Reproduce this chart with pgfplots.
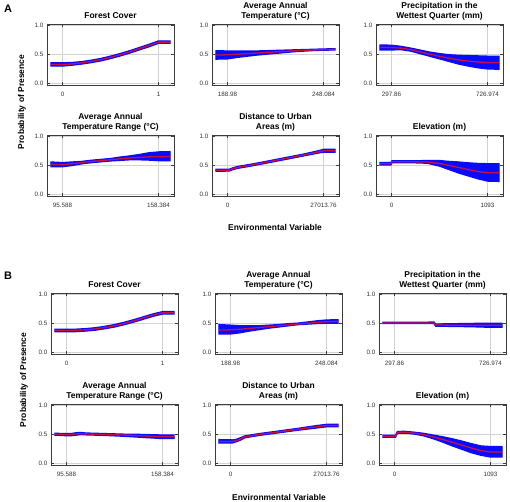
\documentclass[border=0pt]{standalone}
\usepackage{fontspec}
\setmainfont{Liberation Sans}
\usepackage{pgfplots}
\usepackage{pgfplotstable}
\pgfplotsset{compat=1.18}
\definecolor{bandblue}{RGB}{10,10,255}
\definecolor{meanred}{RGB}{200,15,70}
\definecolor{gridgray}{RGB}{210,210,210}
\definecolor{framegray}{RGB}{60,60,60}

% ---------- Panel A data ----------
\pgfplotstableread{
x m lo hi
-0.12 0.325 0.30 0.355
0.0 0.325 0.30 0.355
0.1 0.335 0.315 0.36
0.2 0.355 0.335 0.375
0.3 0.38 0.36 0.40
0.4 0.41 0.39 0.43
0.5 0.45 0.43 0.47
0.6 0.495 0.475 0.515
0.7 0.545 0.525 0.565
0.8 0.60 0.58 0.62
0.9 0.655 0.635 0.675
1.0 0.715 0.695 0.735
1.12 0.715 0.695 0.735
}\tAa
\pgfplotstableread{
x m lo hi
181.89 0.49 0.42 0.565
188.98 0.495 0.425 0.56
194.89 0.505 0.45 0.56
200.80 0.515 0.47 0.56
206.71 0.525 0.49 0.56
212.62 0.535 0.505 0.565
218.53 0.545 0.52 0.57
224.44 0.555 0.535 0.575
230.35 0.565 0.55 0.58
236.26 0.572 0.56 0.585
242.17 0.58 0.57 0.59
248.08 0.585 0.575 0.595
255.17 0.59 0.58 0.60
}\tAb
\pgfplotstableread{
x m lo hi
246.37 0.62 0.58 0.665
297.86 0.62 0.58 0.66
340.77 0.61 0.585 0.64
383.68 0.585 0.56 0.61
426.59 0.545 0.515 0.575
469.51 0.505 0.47 0.54
512.42 0.47 0.425 0.515
555.33 0.435 0.38 0.495
598.24 0.405 0.335 0.485
641.15 0.385 0.30 0.48
684.06 0.37 0.27 0.475
726.97 0.36 0.25 0.47
778.47 0.36 0.245 0.47
}\tAc
\pgfplotstableread{
x m lo hi
88.05 0.52 0.48 0.56
95.59 0.515 0.48 0.55
101.87 0.53 0.50 0.56
108.15 0.55 0.53 0.57
114.43 0.57 0.55 0.59
120.71 0.585 0.565 0.605
126.99 0.60 0.58 0.62
133.27 0.615 0.59 0.645
139.55 0.63 0.60 0.665
145.83 0.64 0.60 0.69
152.10 0.65 0.595 0.72
158.38 0.655 0.585 0.735
165.92 0.655 0.585 0.74
}\tAd
\pgfplotstableread{
x m lo hi
-3242 0.415 0.40 0.435
540 0.42 0.405 0.435
1351 0.44 0.425 0.455
2701 0.465 0.45 0.48
6483 0.505 0.49 0.52
10805 0.555 0.54 0.57
16208 0.62 0.605 0.635
21611 0.685 0.67 0.70
26203 0.745 0.725 0.765
27014 0.755 0.73 0.78
30255 0.755 0.73 0.78
}\tAe
\pgfplotstableread{
x m lo hi
-131 0.53 0.51 0.55
-8 0.53 0.51 0.55
5 0.565 0.55 0.58
219 0.565 0.55 0.58
410 0.56 0.54 0.585
547 0.535 0.49 0.585
656 0.50 0.43 0.57
765 0.465 0.37 0.56
874 0.43 0.32 0.545
984 0.395 0.27 0.535
1093 0.375 0.23 0.53
1224 0.375 0.225 0.53
}\tAf

% ---------- Panel B data ----------
\pgfplotstableread{
x m lo hi
-0.12 0.38 0.36 0.40
0.0 0.38 0.36 0.40
0.1 0.38 0.36 0.40
0.2 0.39 0.37 0.41
0.3 0.405 0.385 0.425
0.4 0.43 0.41 0.45
0.5 0.46 0.44 0.48
0.6 0.50 0.48 0.52
0.7 0.545 0.525 0.565
0.8 0.595 0.575 0.615
0.9 0.645 0.625 0.665
1.0 0.685 0.665 0.705
1.12 0.685 0.665 0.705
}\tBa
\pgfplotstableread{
x m lo hi
181.89 0.385 0.32 0.48
188.98 0.39 0.32 0.47
194.89 0.40 0.34 0.46
200.80 0.415 0.37 0.46
206.71 0.43 0.395 0.46
212.62 0.445 0.42 0.47
218.53 0.46 0.44 0.48
224.44 0.475 0.46 0.495
230.35 0.49 0.48 0.505
236.26 0.505 0.49 0.525
242.17 0.52 0.50 0.545
248.08 0.53 0.505 0.56
255.17 0.535 0.505 0.565
}\tBb
\pgfplotstableread{
x m lo hi
246.37 0.51 0.50 0.52
426.59 0.51 0.50 0.52
473.80 0.51 0.50 0.525
482.38 0.475 0.455 0.49
555.33 0.47 0.45 0.495
641.15 0.47 0.445 0.50
726.97 0.47 0.435 0.505
778.47 0.47 0.435 0.505
}\tBc
\pgfplotstableread{
x m lo hi
88.05 0.505 0.49 0.52
95.59 0.50 0.48 0.515
98.73 0.50 0.48 0.515
101.87 0.51 0.49 0.53
105.01 0.515 0.50 0.535
108.15 0.51 0.495 0.525
120.71 0.50 0.485 0.515
133.27 0.49 0.47 0.505
145.83 0.475 0.45 0.50
158.38 0.46 0.43 0.49
165.92 0.46 0.43 0.49
}\tBd
\pgfplotstableread{
x m lo hi
-3242 0.38 0.355 0.41
540 0.38 0.355 0.405
1351 0.39 0.37 0.41
2701 0.42 0.40 0.44
4052 0.46 0.445 0.475
8104 0.50 0.485 0.515
13507 0.545 0.53 0.56
18910 0.59 0.575 0.605
24312 0.635 0.615 0.655
27014 0.655 0.635 0.675
30255 0.655 0.635 0.675
}\tBe
\pgfplotstableread{
x m lo hi
-131 0.47 0.455 0.485
11 0.47 0.455 0.485
33 0.535 0.52 0.55
109 0.54 0.525 0.555
219 0.525 0.51 0.54
328 0.50 0.48 0.52
437 0.46 0.43 0.49
547 0.415 0.37 0.46
656 0.365 0.305 0.425
765 0.315 0.245 0.385
874 0.265 0.185 0.34
984 0.22 0.14 0.30
1093 0.195 0.11 0.29
1224 0.195 0.11 0.29
}\tBf

\pgfplotsset{
  resp/.style={
    scale only axis, width=127bp, height=61bp, anchor=north west,
    ymin=-0.03, ymax=1.03, ytick={0,0.5,1}, yticklabels={0.0,0.5,1.0},
    scaled ticks=false,
    grid=major, major grid style={gridgray, line width=0.8bp},
    axis line style={framegray, line width=0.8bp},
    tick style={framegray, line width=0.7bp}, major tick length=3bp,
    tick align=inside,
    ticklabel style={font=\fontsize{6.3}{7}\selectfont, text=black!80},
    xticklabel style={anchor=center, inner sep=0pt, yshift=-9bp},
    yticklabel style={anchor=east, inner sep=0pt, xshift=-3.5bp},
    title style={font=\bfseries\fontsize{8.5}{10}\selectfont, align=center,
      inner sep=0pt, text depth=2bp, yshift=-2.5bp},
  },
}
\newcommand{\band}[1]{%
  \addplot[draw=none, stack plots=y, forget plot] table[x=x,y=lo]{#1};
  \addplot[fill=bandblue, draw=bandblue, line width=1.4bp, stack plots=y, forget plot]
     table[x=x, y expr=\thisrow{hi}-\thisrow{lo}]{#1} \closedcycle;
  \addplot[meanred, line width=1.3bp, stack plots=false] table[x=x,y=m]{#1};
}

\begin{document}
\begin{tikzpicture}
\useasboundingbox (0bp,0bp) rectangle (510bp,502bp);

% Panel labels and shared labels
\node[font=\bfseries\fontsize{11}{12}\selectfont] at (8bp,493bp) {A};
\node[font=\bfseries\fontsize{11}{12}\selectfont] at (8bp,226bp) {B};
\node[rotate=90, font=\bfseries\fontsize{8.5}{10}\selectfont] at (22bp,400bp) {Probability of Presence};
\node[rotate=90, font=\bfseries\fontsize{8.5}{10}\selectfont] at (24bp,122bp) {Probability of Presence};
\node[font=\bfseries\fontsize{8.5}{10}\selectfont] at (275bp,275bp) {Environmental Variable};
\node[font=\bfseries\fontsize{8.5}{10}\selectfont] at (279bp,5bp) {Environmental Variable};

% ================= Panel A =================
\begin{axis}[resp, at={(47bp,478bp)}, title={Forest Cover},
  xmin=-0.1615, xmax=1.1615, xtick={0,1}, xticklabels={0,1}]
\band{\tAa}
\end{axis}
\begin{axis}[resp, at={(212bp,478bp)}, title={Average Annual\\Temperature (°C)},
  xmin=179.435, xmax=257.629, xtick={188.98,248.084}, xticklabels={188.98,248.084}]
\band{\tAb}
\end{axis}
\begin{axis}[resp, at={(376bp,478bp)}, title={Precipitation in the\\Wettest Quarter (mm)},
  xmin=228.56, xmax=796.27, xtick={297.86,726.974}, xticklabels={297.86,726.974}]
\band{\tAc}
\end{axis}
\begin{axis}[resp, at={(47bp,367bp)}, title={Average Annual\\Temperature Range (°C)},
  xmin=85.446, xmax=168.526, xtick={95.588,158.384}, xticklabels={95.588,158.384}]
\band{\tAd}
\end{axis}
\begin{axis}[resp, at={(212bp,367bp)}, title={Distance to Urban\\Areas (m)},
  xmin=-4362.7, xmax=31376.5, xtick={0,27013.76}, xticklabels={0,27013.76}]
\band{\tAe}
\end{axis}
\begin{axis}[resp, at={(376bp,367bp)}, title={Elevation (m)},
  xmin=-176.5, xmax=1269.5, xtick={0,1093}, xticklabels={0,1093}]
\band{\tAf}
\end{axis}

% ================= Panel B =================
\begin{axis}[resp, at={(51bp,209bp)}, title={Forest Cover},
  xmin=-0.1615, xmax=1.1615, xtick={0,1}, xticklabels={0,1}]
\band{\tBa}
\end{axis}
\begin{axis}[resp, at={(215bp,209bp)}, title={Average Annual\\Temperature (°C)},
  xmin=179.435, xmax=257.629, xtick={188.98,248.084}, xticklabels={188.98,248.084}]
\band{\tBb}
\end{axis}
\begin{axis}[resp, at={(379bp,209bp)}, title={Precipitation in the\\Wettest Quarter (mm)},
  xmin=228.56, xmax=796.27, xtick={297.86,726.974}, xticklabels={297.86,726.974}]
\band{\tBc}
\end{axis}
\begin{axis}[resp, at={(51bp,98bp)}, title={Average Annual\\Temperature Range (°C)},
  xmin=85.446, xmax=168.526, xtick={95.588,158.384}, xticklabels={95.588,158.384}]
\band{\tBd}
\end{axis}
\begin{axis}[resp, at={(215bp,98bp)}, title={Distance to Urban\\Areas (m)},
  xmin=-4362.7, xmax=31376.5, xtick={0,27013.76}, xticklabels={0,27013.76}]
\band{\tBe}
\end{axis}
\begin{axis}[resp, at={(379bp,98bp)}, title={Elevation (m)},
  xmin=-176.5, xmax=1269.5, xtick={0,1093}, xticklabels={0,1093}]
\band{\tBf}
\end{axis}
\end{tikzpicture}
\end{document}
